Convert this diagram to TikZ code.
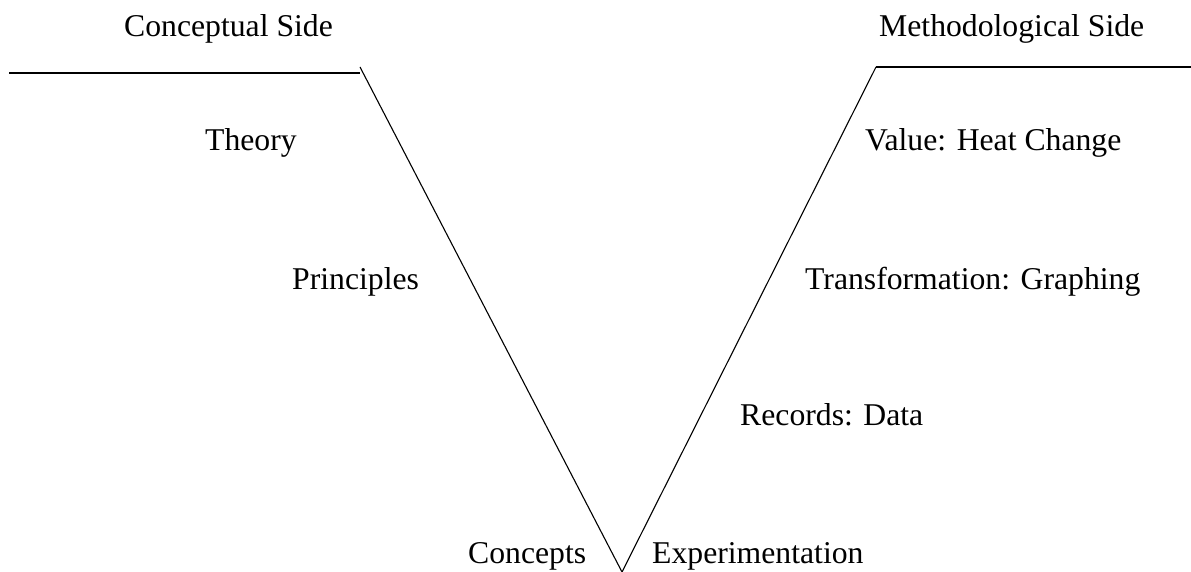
\documentclass[tikz,border=0pt]{standalone}
\usepackage{fontspec}
\setmainfont{Liberation Serif}
\begin{document}
\begin{tikzpicture}[x=1pt,y=1pt,
  lbl/.style={anchor=base west,inner sep=0pt,font=\fontsize{31.7}{38}\selectfont},
  rim/.style={line width=2pt},
  arm/.style={line width=1.1pt,line join=miter}]
\useasboundingbox (0,0) rectangle (1191,571);
% coordinates (y = 571 - pixel row)
\coordinate (l0) at (9,498);
\coordinate (l1) at (360,498);
\coordinate (lt) at (360,504);
\coordinate (v)  at (622,-1);
\coordinate (rt) at (876,504);
\coordinate (r1) at (1191,504);
\draw[rim] (l0) -- (l1);
\draw[rim] (rt) -- (r1);
\draw[arm] (lt) -- (v) -- (rt);
% labels
\node[lbl] (cs) at (124,534) {Conceptual Side};
\node[lbl] (ms) at (879,534) {Methodological Side};
\node[lbl] (th) at (205,420) {Theory};
\node[lbl] (vh) at (865,420) {Value: Heat Change};
\node[lbl] (pr) at (292,281) {Principles};
\node[lbl] (tg) at (805,281) {Transformation: Graphing};
\node[lbl] (rd) at (740,146) {Records: Data};
\node[lbl] (co) at (468,8) {Concepts};
\node[lbl] (ex) at (652,8) {Experimentation};
\end{tikzpicture}
\end{document}
